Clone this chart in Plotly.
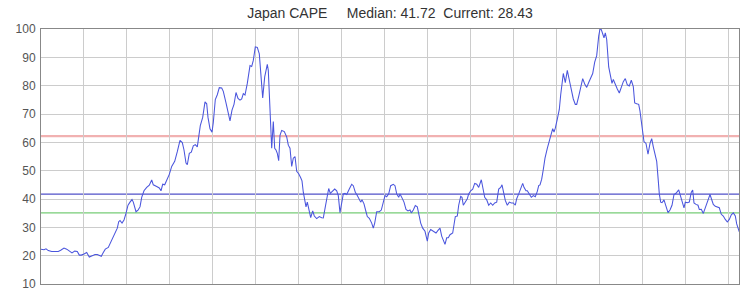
import plotly.graph_objects as go

# time index (arbitrary units along the unlabeled x axis) and CAPE values
t = [0, 3, 5, 7.3, 10.7, 14, 17.3, 19.7, 23, 25.7, 29, 31, 33.7, 36.3, 38.3, 40.3, 43, 45.7, 48.3, 51,
     54, 56.3, 58.3, 60.3, 62.3, 64.3, 67.3, 69.7, 72.3, 74.3, 76.3, 77.7, 79, 81, 83, 85, 87, 89, 91, 92.3,
     93.7, 95, 97,
     99.0, 100.7, 103.0, 105.7, 108.3, 110.7, 112.3, 115.7, 118.3, 120.0, 121.7, 123.7, 125.7, 128.3, 130.7,
     133.7, 136.3, 139.0, 141.3, 143.0, 145.0, 146.3, 148.3, 150.3, 152.3, 154.3, 156.3, 158.0, 159.3, 161.7,
     164.0, 165.7, 167.0, 169.0, 171.0, 172.3, 174.3, 176.3, 178.3, 180.7, 182.3, 185.0, 187.0, 189.0, 191.0,
     193.0, 195.0, 197.0,
     199.0, 200.7, 202.3, 204.0, 206.3, 209.0, 210.7, 212.3, 214.3, 216.3, 218.3, 220.0, 221.7, 223.7, 226.3,
     227.3, 229.0, 230.7, 232.3, 233.7, 235.0, 236.3, 237.7, 239.0, 240.7, 243.3, 245.7, 247.3, 249.0, 250.7,
     252.3, 254.0, 255.7, 257.7, 259.7, 261.0, 262.3, 263.7, 265.0, 266.3, 268.0, 269.7, 271.7, 273.3, 275.7,
     278.3, 280.7, 282.3, 284.3, 286.3, 287.7, 289.3, 291.7, 293.7, 295.7, 297.3,
     299.0, 300.7, 302.3, 304.0, 305.7, 308.3, 310.7, 312.3, 314.3, 316.3, 318.3, 319.7, 321.0, 323.0, 325.0,
     326.3, 328.3, 330.7, 332.3, 333.7, 335.7, 338.3, 340.3, 342.3, 344.0, 345.7, 347.7, 349.7, 352.3, 354.0,
     355.7, 357.7, 359.0, 361.0, 363.0, 365.0, 367.0, 369.0, 370.3, 372.3, 374.3, 376.3, 377.7, 379.7, 381.7,
     384.0, 386.3, 387.7, 389.7, 392.3, 395.0, 397.0,
     399.0, 400.7, 402.3, 404.0, 405.7, 407.3, 409.0, 411.7, 413.0, 414.3, 416.3, 417.7, 419.7, 421.0, 422.3,
     424.3, 426.3, 427.7, 429.7, 431.7, 433.7, 435.7, 437.7, 440.3, 441.7, 443.7, 445.7, 447.7, 449.7, 451.7,
     453.7, 455.7, 457.7, 459.7, 461.0, 462.3, 464.3, 466.3, 468.3, 470.3, 472.3, 474.3, 475.7, 477.7, 479.7,
     481.7, 483.0, 485.0, 486.3, 488.3, 490.3, 492.3, 494.3, 496.3, 497.7,
     499.0, 500.7, 502.3, 504.0, 506.3, 509.0, 511.7, 513.0, 514.3, 516.3, 518.3, 519.7, 521.0, 522.3, 524.3,
     526.3, 528.3, 530.3, 532.3, 534.3, 535.7, 537.7, 539.7, 541.7, 543.7, 545.7, 547.7, 549.7, 551.7, 553.7,
     555.7, 557.7, 559.0, 560.3, 561.7, 563.0, 564.3, 565.7, 567.7, 569.7, 571.0, 572.3, 574.3, 576.3, 578.3,
     580.3, 582.3, 584.3, 586.3, 588.3, 590.3, 592.3, 593.7, 595.7, 597.7,
     599.0, 600.7, 601.7, 603.0, 605.0, 607.0, 609.0, 610.7, 612.3, 614.0, 615.7, 617.3, 618.3, 619.7, 621.0,
     623.0, 625.0, 627.0, 629.0, 631.0, 633.0, 635.0, 637.7, 639.0, 641.0, 643.0, 644.3, 646.3, 648.3, 650.3,
     651.7, 653.0, 655.0, 657.0, 658.3, 660.3, 662.3, 664.3, 666.3, 669.0, 670.3, 672.3, 674.3, 676.3, 678.3,
     680.3, 682.3, 684.3, 686.3, 688.3, 690.3, 692.3, 694.3, 695.7, 697.3, 698.3]

cape = [22.3, 22.1, 22.4, 21.8, 21.5, 21.5, 21.5, 21.9, 22.7, 22.3, 21.5, 21.0, 21.6, 21.5, 20.2, 20.2, 20.6,
        21.1, 19.5, 20.0, 20.4, 20.4, 20.0, 19.8, 21.1, 22.3, 22.9, 24.6, 26.3, 27.7, 29.7, 32.0, 32.4, 31.5,
        32.6, 34.9, 37.8, 38.9, 39.8, 38.9, 37.2, 35.5, 36.1,
        37.2, 40.6, 42.9, 44.1, 44.9, 46.7, 45.0, 44.4, 43.9, 42.9, 45.2, 45.0, 46.4, 48.7, 51.5, 53.3, 56.7,
        60.7, 59.9, 57.3, 52.7, 52.1, 56.1, 56.5, 58.8, 59.2, 58.4, 62.5, 65.9, 68.8, 74.3, 73.6, 68.8, 64.8,
        63.6, 67.0, 75.1, 76.8, 79.3, 79.2, 78.0, 73.9, 71.1, 67.6, 71.4, 73.4, 77.6, 75.5,
        74.9, 75.3, 77.2, 76.7, 80.8, 87.1, 86.8, 88.9, 93.7, 93.5, 91.2, 83.1, 75.7, 83.1, 87.5, 85.4, 73.9,
        57.9, 67.3, 57.9, 57.3, 56.1, 53.5, 62.5, 64.2, 63.8, 61.9, 59.0, 57.9, 51.5, 54.4, 55.0, 49.8, 48.9,
        47.5, 46.4, 42.4, 38.9, 37.2, 38.9, 36.0, 33.4, 35.8, 34.0, 33.1, 33.8, 33.4, 33.3, 37.2, 41.8, 43.7,
        42.0, 42.9, 43.5, 42.9, 41.2,
        35.2, 38.9, 41.8, 42.0, 41.6, 43.5, 45.2, 44.7, 42.4, 41.2, 39.8, 38.9, 39.7, 38.3, 35.5, 33.8, 33.2,
        31.5, 29.7, 31.5, 35.5, 35.5, 36.1, 38.9, 41.2, 40.8, 41.8, 44.7, 45.2, 44.7, 41.8, 40.6, 41.8, 40.4,
        38.9, 36.3, 35.8, 36.1, 35.1, 36.1, 37.7, 37.2, 34.9, 31.5, 29.7, 28.6, 25.1, 28.0, 29.2, 28.5, 28.0,
        28.9,
        29.7, 26.9, 25.1, 24.0, 26.3, 26.3, 27.4, 28.0, 30.9, 33.8, 34.0, 37.8, 40.9, 40.6, 37.8, 38.9, 40.1,
        41.8, 42.9, 43.5, 45.5, 45.2, 44.1, 46.8, 44.1, 40.6, 39.7, 37.8, 38.6, 37.8, 38.6, 38.9, 43.5, 44.1,
        45.0, 42.9, 39.5, 37.8, 38.9, 38.6, 38.6, 37.8, 40.1, 41.8, 43.5, 45.5, 44.1, 42.9, 42.9, 41.8, 40.6,
        41.2, 40.8, 42.7, 44.7,
        45.0, 47.0, 50.4, 54.4, 57.9, 61.3, 64.8, 63.6, 65.0, 68.2, 71.6, 76.8, 80.8, 84.3, 81.1, 85.4, 82.0,
        78.5, 75.3, 73.4, 73.4, 76.2, 79.1, 82.5, 80.6, 79.4, 81.1, 82.5, 84.3, 88.3, 90.6, 97.5, 100.0, 99.8,
        98.0, 96.9, 98.6, 96.3, 86.6, 83.1, 80.8, 82.2, 80.3, 78.8, 77.4, 79.7, 81.4, 82.5, 80.3, 79.9, 81.9,
        79.7, 73.9, 73.6, 73.4,
        71.0, 67.0, 63.6, 60.2, 59.6, 55.8, 59.6, 61.3, 58.4, 56.1, 53.3, 46.4, 41.8, 38.9, 38.7, 39.7, 37.2,
        35.2, 36.1, 37.8, 41.6, 42.0, 43.2, 41.8, 39.5, 36.9, 38.9, 38.7, 38.9, 42.4, 43.2, 38.6, 38.1, 37.8,
        36.3, 36.4, 34.9, 37.2, 38.9, 41.6, 39.8, 38.1, 37.4, 37.2, 36.9, 34.6, 34.0, 32.8, 31.9, 32.8, 34.4,
        35.1, 34.0, 31.2, 29.2, 28.43]

median = 41.72
current = 28.43
upper_band = 62.2
lower_band = 35.1
y_ticks = [10, 20, 30, 40, 50, 60, 70, 80, 90, 100]

FONT = "Liberation Sans, Arial, sans-serif"
nb = "\u00a0"

fig = go.Figure()

for val, col, w in [(upper_band, "rgba(220,60,60,0.4)", 2.2),
                    (lower_band, "#77cc77", 1.2),
                    (median, "#5050c8", 1.2)]:
    fig.add_shape(type="line", xref="paper", x0=0, x1=1, yref="y", y0=val, y1=val,
                  line=dict(color=col, width=w), layer="below")

fig.add_trace(go.Scatter(x=t, y=cape, mode="lines",
                         line=dict(color="#4a55dd", width=1.05),
                         hoverinfo="skip", showlegend=False))

title = f"Japan CAPE{nb*5}Median: {median:.2f}{nb*2}Current: {current:.2f}"

fig.update_layout(
    width=750, height=300,
    margin=dict(l=41, r=11, t=29, b=9),
    paper_bgcolor="white", plot_bgcolor="white",
    font=dict(family=FONT, size=12, color="#555"),
    title=dict(text=title, x=0.5, xref="paper", xanchor="center",
               y=1 - 13 / 300, yref="container", yanchor="middle",
               font=dict(family=FONT, size=14, color="#333")),
    showlegend=False,
)
fig.update_xaxes(range=[0, 698], tick0=42, dtick=43, showticklabels=False,
                 showgrid=True, gridcolor="#cccccc", gridwidth=1, zeroline=False,
                 showline=True, linecolor="#888", linewidth=1, mirror=True, ticks="")
fig.update_yaxes(range=[10, 100], tickvals=y_ticks, showgrid=True, gridcolor="#cccccc",
                 gridwidth=1, zeroline=False, showline=True, linecolor="#888", linewidth=1,
                 mirror=True, ticks="", ticklabelstandoff=2,
                 tickfont=dict(family=FONT, size=12, color="#555"))

fig.write_html("out.html")
